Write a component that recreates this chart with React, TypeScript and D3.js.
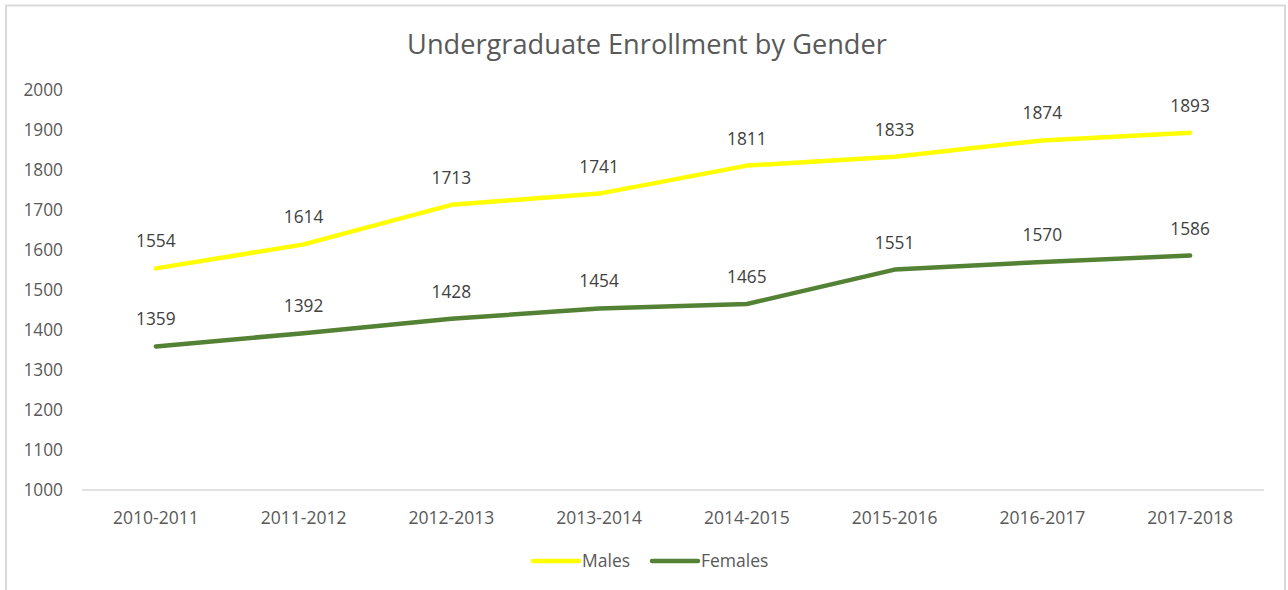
import * as d3 from 'd3'

const years = ['2010-2011', '2011-2012', '2012-2013', '2013-2014', '2014-2015', '2015-2016', '2016-2017', '2017-2018']
const males = [1554, 1614, 1713, 1741, 1811, 1833, 1874, 1893]
const females = [1359, 1392, 1428, 1454, 1465, 1551, 1570, 1586]
const yTicks = [1000, 1100, 1200, 1300, 1400, 1500, 1600, 1700, 1800, 1900, 2000]

const series = [
  { name: 'Males', values: males, color: '#ffff00' },
  { name: 'Females', values: females, color: '#548235' },
]

const W = 1288
const H = 590
const font = '"Open Sans", sans-serif'

export default function App() {
  const x = d3.scaleBand().domain(years).range([82, 1264])
  const y = d3.scaleLinear().domain([1000, 2000]).range([490, 90])
  const cx = (d: string) => (x(d) || 0) + x.bandwidth() / 2
  const line = d3.line<number>().x((_, i) => cx(years[i])).y(d => y(d))

  return (
    <div style={{ position: 'fixed', inset: 0, background: '#fff' }}>
      <svg width={W} height={H} style={{ display: 'block' }}>
        <rect x={6} y={5.5} width={1279} height={620} fill="#fff" stroke="#d9d9d9" strokeWidth={2} />

        <text x={647} y={54} textAnchor="middle" fontFamily={font} fontSize={27.2} fill="#595959">
          Undergraduate Enrollment by Gender
        </text>

        {yTicks.map(t => (
          <text key={t} x={63} y={y(t)} dy="0.35em" textAnchor="end" fontFamily={font} fontSize={17.3} fill="#595959">
            {t}
          </text>
        ))}

        <line x1={82} x2={1264} y1={y(1000)} y2={y(1000)} stroke="#d9d9d9" strokeWidth={1.5} />

        {years.map(d => (
          <text key={d} x={cx(d)} y={518} dy="0.35em" textAnchor="middle" fontFamily={font} fontSize={17.5} fill="#595959">
            {d}
          </text>
        ))}

        {series.map(s => (
          <path key={s.name} d={line(s.values) || ''} fill="none" stroke={s.color} strokeWidth={4.5}
            strokeLinecap="round" strokeLinejoin="round" />
        ))}

        {series.map(s => s.values.map((v, i) => (
          <text key={s.name + i} x={cx(years[i])} y={y(v) - 27} dy="0.35em" textAnchor="middle"
            fontFamily={font} fontSize={17.3} fill="#404040">
            {v}
          </text>
        )))}

        {series.map((s, i) => {
          const lx = i === 0 ? 533 : 652
          return (
            <g key={s.name}>
              <line x1={lx} x2={lx + 46} y1={561} y2={561} stroke={s.color} strokeWidth={4.5} strokeLinecap="round" />
              <text x={lx + 49} y={561} dy="0.35em" fontFamily={font} fontSize={17.5} fill="#595959">{s.name}</text>
            </g>
          )
        })}
      </svg>
    </div>
  )
}
